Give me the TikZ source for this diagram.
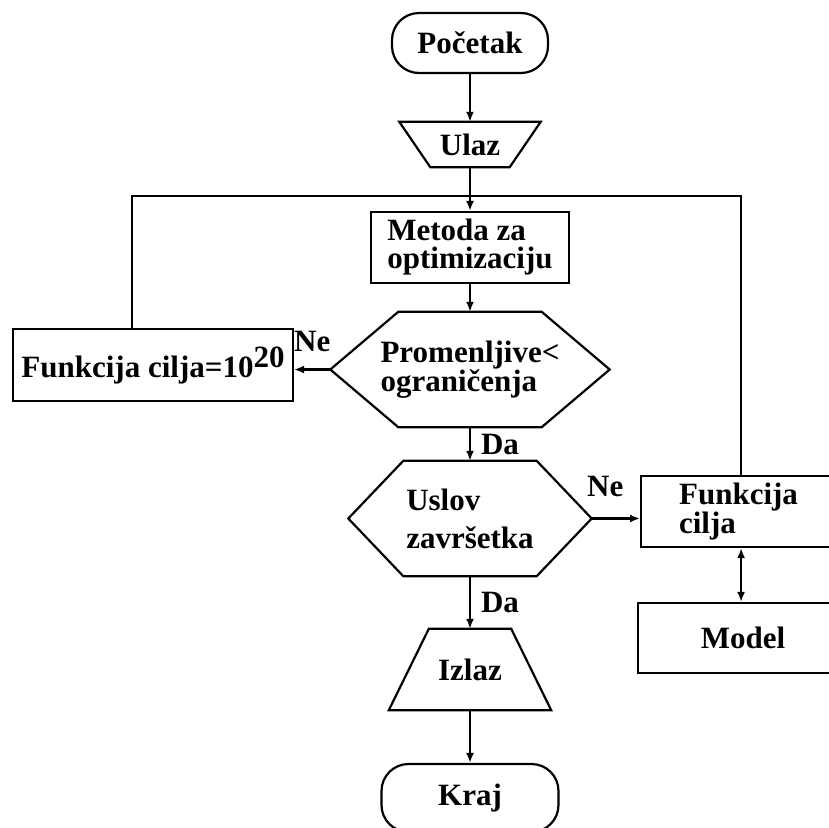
\documentclass[tikz,border=0pt]{standalone}
\usepackage{fontspec}
\setmainfont{Liberation Serif}
\usetikzlibrary{arrows.meta}
\usetikzlibrary{calc}

\begin{document}
\begin{tikzpicture}[
    x=1pt, y=-1pt,
    line/.style={line width=2.2pt},
    arr/.style={line, -{Latex[length=10pt,width=8pt]}},
    arrboth/.style={line, {Latex[length=10pt,width=8pt]}-{Latex[length=10pt,width=8pt]}},
    txt/.style={font=\bfseries\fontsize{31}{28}\selectfont, inner sep=0pt, align=left},
    box/.style={txt, draw, line, rectangle},
    term/.style={box, rounded corners=27pt},
    % lbl/.style={txt, red},
  ]
  \useasboundingbox (0,0) rectangle (828,828);

  \node[term, minimum width=156pt, minimum height=60pt] (pocetak) at (470,43) {Početak};
  \node[txt, minimum width=141pt, minimum height=45pt] (ulaz) at (470,144.5) {Ulaz};
  \node[box, minimum width=198pt, minimum height=71pt] (metoda) at (470,247.5) {Metoda za\\optimizaciju};
  \node[txt, minimum width=279pt, minimum height=115pt] (ogran) at (470,369.5) {Promenljive<\\ograničenja};
  \node[box, minimum width=280pt, minimum height=72pt] (kazna) at (153,365) {Funkcija cilja=10\raisebox{10pt}{20}};
  \node[txt, minimum width=243pt, minimum height=115pt] (uslov) at (470,518.5) {Uslov\\[10pt]završetka};
  \node[box, anchor=west, minimum width=200pt, minimum height=71pt, text width=124pt, inner xsep=38pt] (fcilja) at (640,511.5) {Funkcija\\cilja};
  \node[box, anchor=west, minimum width=210pt, minimum height=70pt] (model) at (637,638) {Model};
  \node[txt, minimum width=162pt, minimum height=81pt] (izlaz) at (470,669.5) {Izlaz};
  \node[term, minimum width=177pt, minimum height=68pt] (kraj) at (470,798) {Kraj};
  \coordinate (spoj) at (470,196);

  % outlines of ulaz, izlaz and the two hexagons
  \draw[line] (ulaz.north west) -- (ulaz.north east)
    -- ($(ulaz.south east)+(-31,0)$) -- ($(ulaz.south west)+(31,0)$) -- cycle;
  \draw[line] ($(izlaz.north west)+(40,0)$) -- ($(izlaz.north east)+(-40,0)$)
    -- (izlaz.south east) -- (izlaz.south west) -- cycle;
  \draw[line] (ogran.west) -- ($(ogran.north west)+(68,0)$) -- ($(ogran.north east)+(-68,0)$)
    -- (ogran.east) -- ($(ogran.south east)+(-68,0)$) -- ($(ogran.south west)+(68,0)$) -- cycle;
  \draw[line] (uslov.west) -- ($(uslov.north west)+(55,0)$) -- ($(uslov.north east)+(-55,0)$)
    -- (uslov.east) -- ($(uslov.south east)+(-55,0)$) -- ($(uslov.south west)+(55,0)$) -- cycle;

  \draw[arr] (pocetak) -- (ulaz);
  \draw[arr] (ulaz) -- (metoda);
  \draw[arr] (metoda) -- (ogran);
  \draw[arr] (ogran.west) -- (ogran.west -| kazna.east)
    node[txt, midway, above=17pt] {Ne};
  \draw[line] ($(kazna.north)+(-21,0)$) |- (spoj);
  \draw[line] (fcilja.north) |- (spoj);
  \draw[arr] (ogran) -- (uslov) node[txt, midway, right=10pt] {Da};
  \draw[arr] (uslov.east) -- (uslov.east -| fcilja.west)
    node[txt, pos=0.28, above=21pt] {Ne};
  \draw[arrboth] (fcilja.south) -- (fcilja.south |- model.north);
  \draw[arr] (uslov) -- (izlaz) node[txt, midway, right=10pt] {Da};
  \draw[arr] (izlaz) -- (kraj);
\end{tikzpicture}
\end{document}
